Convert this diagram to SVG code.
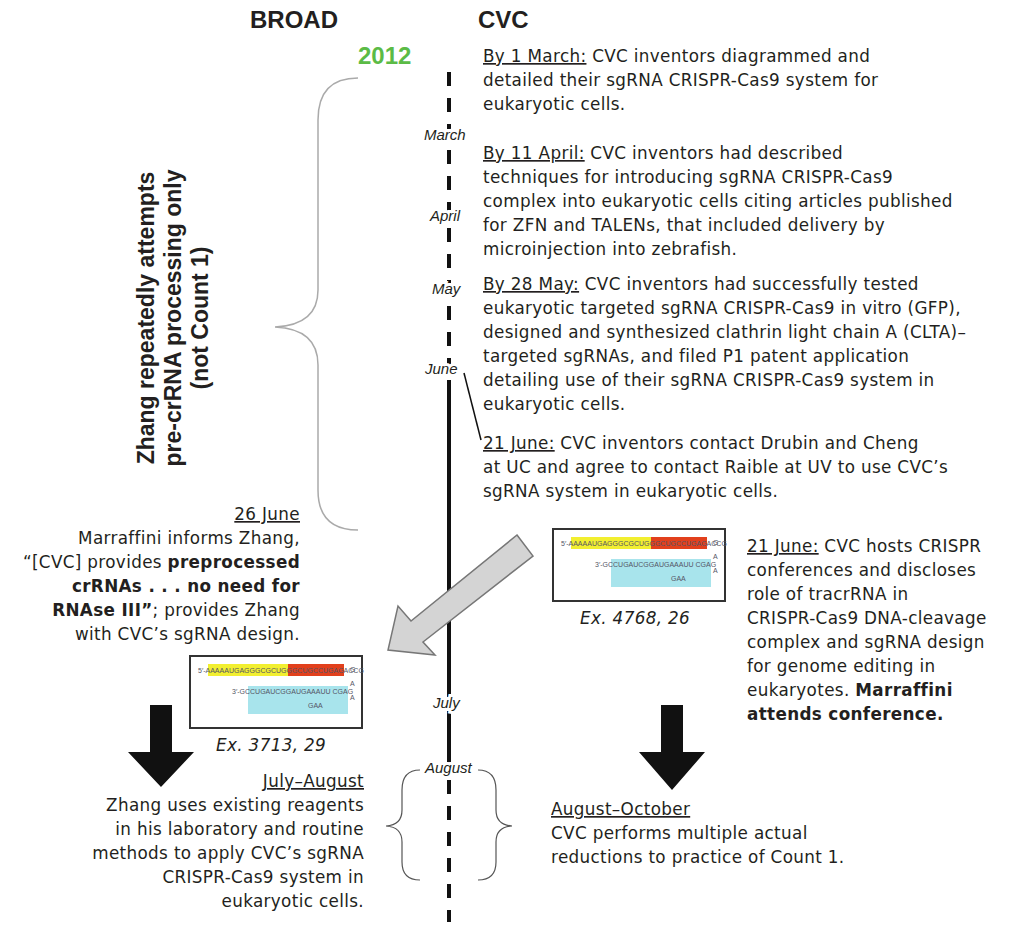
<svg xmlns="http://www.w3.org/2000/svg" width="1024" height="929" viewBox="0 0 1024 929">
<style>
text{font-family:"Liberation Sans",Arial,sans-serif;fill:#231f20}
.b{font-family:"DejaVu Sans",sans-serif;font-size:16.8px;letter-spacing:0.35px}
.h{font-size:24px;font-weight:bold}
.m{font-size:15px;font-style:italic;paint-order:stroke;stroke:#fff;stroke-width:6px}
.bold{font-weight:bold}
.u{text-decoration:underline}
.seq{font-size:7px;fill:#556}
</style>
<defs>
<g id="seqimg">
<rect x="0" y="0" width="172" height="72" fill="#fff" stroke="#333" stroke-width="2"/>
<rect x="18" y="8" width="80" height="12" fill="#f2ef30"/>
<rect x="98" y="8" width="56" height="12" fill="#e2401c"/>
<rect x="58" y="30" width="100" height="28" fill="#a8e4ec"/>
<text x="8" y="17" class="seq">5′-AAAAAUGAGGGCGCUGGGCUGCCUGAGACCG</text>
<text x="42" y="38" class="seq">3′-GCCUGAUCGGAUGAAAUU CGAG</text>
<text x="118" y="52" class="seq">GAA</text>
<text x="160" y="16" class="seq">G</text><text x="160" y="30" class="seq">A</text><text x="160" y="44" class="seq">A</text>
</g>
</defs>
<g id="headers">
<text x="250" y="28" class="h">BROAD</text>
<text x="478" y="28" class="h">CVC</text>
<text x="358" y="64" style="font-size:24px;font-weight:bold;fill:#5bbb46">2012</text>
</g>
<g id="connectors" fill="none">
<line x1="449" y1="72" x2="449" y2="372" stroke="#111" stroke-width="4" stroke-dasharray="14,12"/>
<line x1="449" y1="380" x2="449" y2="770" stroke="#111" stroke-width="4"/>
<line x1="449" y1="780" x2="449" y2="922" stroke="#111" stroke-width="4" stroke-dasharray="14,12"/>
<line x1="464" y1="373" x2="481" y2="440" stroke="#111" stroke-width="1.5"/>
<path d="M358,78 Q318,78 318,120 L318,290 Q318,325 275,327 Q318,329 318,365 L318,490 Q318,530 358,530" stroke="#aaa" stroke-width="1.5"/>
<path d="M420,770 Q402,770 402,790 L402,810 Q402,825 386,826 Q402,827 402,842 L402,862 Q402,880 420,880" stroke="#555" stroke-width="1.2"/>
<path d="M478,770 Q496,770 496,790 L496,810 Q496,825 512,826 Q496,827 496,842 L496,862 Q496,880 478,880" stroke="#555" stroke-width="1.2"/>
<polygon points="517,535 533,556 423,642 435,655 388,650 398,606 411,621" fill="#d4d4d4" stroke="#777" stroke-width="1.5"/>
<polygon points="150,705 172,705 172,752 194,752 161,787 128,752 150,752" fill="#111"/>
<polygon points="661,705 683,705 683,752 705,752 672,790 639,752 661,752" fill="#111"/>
</g>
<g id="months">
<text x="424" y="140" class="m">March</text>
<text x="430" y="221" class="m">April</text>
<text x="432" y="294" class="m">May</text>
<text x="425" y="374" class="m">June</text>
<text x="433" y="708" class="m">July</text>
<text x="425" y="773" class="m">August</text>
</g>
<g id="brace-label">
<text transform="translate(154,318) rotate(-90)" text-anchor="middle" style="font-size:23px;font-weight:bold"><tspan x="0" y="0">Zhang repeatedly attempts</tspan><tspan x="0" y="27">pre-crRNA processing only</tspan><tspan x="0" y="54">(not Count 1)</tspan></text>
</g>
<g id="cvc1"><text class="b"><tspan x="483" y="62"><tspan class="u">By 1 March:</tspan> CVC inventors diagrammed and</tspan><tspan x="483" y="86">detailed their sgRNA CRISPR-Cas9 system for</tspan><tspan x="483" y="110">eukaryotic cells.</tspan></text></g>
<g id="cvc2"><text class="b"><tspan x="483" y="159"><tspan class="u">By 11 April:</tspan> CVC inventors had described</tspan><tspan x="483" y="183">techniques for introducing sgRNA CRISPR-Cas9</tspan><tspan x="483" y="207">complex into eukaryotic cells citing articles published</tspan><tspan x="483" y="231">for ZFN and TALENs, that included delivery by</tspan><tspan x="483" y="255">microinjection into zebrafish.</tspan></text></g>
<g id="cvc3"><text class="b"><tspan x="483" y="290"><tspan class="u">By 28 May:</tspan> CVC inventors had successfully tested</tspan><tspan x="483" y="314">eukaryotic targeted sgRNA CRISPR-Cas9 in vitro (GFP),</tspan><tspan x="483" y="338">designed and synthesized clathrin light chain A (CLTA)–</tspan><tspan x="483" y="362">targeted sgRNAs, and filed P1 patent application</tspan><tspan x="483" y="386">detailing use of their sgRNA CRISPR-Cas9 system in</tspan><tspan x="483" y="410">eukaryotic cells.</tspan></text></g>
<g id="cvc4"><text class="b"><tspan x="483" y="449"><tspan class="u">21 June:</tspan> CVC inventors contact Drubin and Cheng</tspan><tspan x="483" y="473">at UC and agree to contact Raible at UV to use CVC’s</tspan><tspan x="483" y="497">sgRNA system in eukaryotic cells.</tspan></text></g>
<g id="broad1"><text class="b" text-anchor="end"><tspan x="300" y="520" class="u">26 June</tspan><tspan x="300" y="544">Marraffini informs Zhang,</tspan><tspan x="300" y="568">“[CVC] provides <tspan class="bold">preprocessed</tspan></tspan><tspan x="300" y="592" class="bold">crRNAs . . . no need for</tspan><tspan x="300" y="616"><tspan class="bold">RNAse III”</tspan>; provides Zhang</tspan><tspan x="300" y="640">with CVC’s sgRNA design.</tspan></text></g>
<g id="img1"><use href="#seqimg" x="553" y="529"/><text x="580" y="624" class="b" style="font-style:italic">Ex. 4768, 26</text></g>
<g id="img2"><use href="#seqimg" x="190" y="656"/><text x="216" y="751" class="b" style="font-style:italic">Ex. 3713, 29</text></g>
<g id="cvc5"><text class="b"><tspan x="747" y="552"><tspan class="u">21 June:</tspan> CVC hosts CRISPR</tspan><tspan x="747" y="576">conferences and discloses</tspan><tspan x="747" y="600">role of tracrRNA in</tspan><tspan x="747" y="624">CRISPR-Cas9 DNA-cleavage</tspan><tspan x="747" y="648">complex and sgRNA design</tspan><tspan x="747" y="672">for genome editing in</tspan><tspan x="747" y="696">eukaryotes. <tspan class="bold">Marraffini</tspan></tspan><tspan x="747" y="720" class="bold">attends conference.</tspan></text></g>
<g id="broad2"><text class="b" text-anchor="end"><tspan x="364" y="787" class="u">July–August</tspan><tspan x="364" y="811">Zhang uses existing reagents</tspan><tspan x="364" y="835">in his laboratory and routine</tspan><tspan x="364" y="859">methods to apply CVC’s sgRNA</tspan><tspan x="364" y="883">CRISPR-Cas9 system in</tspan><tspan x="364" y="907">eukaryotic cells.</tspan></text></g>
<g id="cvc6"><text class="b"><tspan x="551" y="815" class="u">August–October</tspan><tspan x="551" y="839">CVC performs multiple actual</tspan><tspan x="551" y="863">reductions to practice of Count 1.</tspan></text></g>
</svg>
